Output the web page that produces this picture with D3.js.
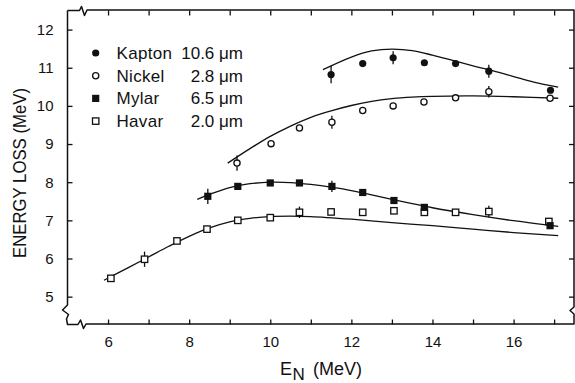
<!DOCTYPE html>
<html lang="en">
<head>
<meta charset="UTF-8">
<title>Energy loss vs E_N</title>
<script src="https://cdn.jsdelivr.net/npm/d3@7/dist/d3.min.js"></script>
<style>
    body { margin: 0; background: #fff; }
    svg text { font-family: 'Liberation Sans', Arial, sans-serif; fill: #111; }
</style>
</head>
<body>
<svg width="575" height="383"></svg>
<script>
var kaptonE    = [11.5, 12.28, 13.03, 13.8, 14.57, 15.39, 16.91];
var kaptonLoss = [10.82, 11.11, 11.26, 11.13, 11.11, 10.91, 10.41];
var kaptonErr  = [0.23, 0, 0.17, 0, 0, 0.17, 0];

var nickelE    = [9.18, 10.02, 10.72, 11.52, 12.28, 13.03, 13.79, 14.57, 15.39, 16.9];
var nickelLoss = [8.5, 9.01, 9.42, 9.57, 9.88, 10.0, 10.1, 10.21, 10.37, 10.2];
var nickelErr  = [0.2, 0, 0, 0.17, 0, 0, 0, 0, 0.15, 0];

var mylarE    = [8.46, 9.2, 10.0, 10.72, 11.52, 12.28, 13.05, 13.8, 16.9];
var mylarLoss = [7.63, 7.89, 7.98, 7.98, 7.89, 7.73, 7.52, 7.34, 6.86];
var mylarErr  = [0.2, 0, 0, 0, 0.15, 0, 0, 0, 0];

var havarE    = [6.07, 6.9, 7.7, 8.44, 9.2, 10.0, 10.72, 11.5, 12.28, 13.05, 13.8, 14.57, 15.39, 16.87];
var havarLoss = [5.48, 5.98, 6.46, 6.77, 7.0, 7.07, 7.21, 7.22, 7.21, 7.25, 7.21, 7.21, 7.23, 6.97];
var havarErr  = [0, 0.2, 0, 0, 0, 0, 0.15, 0, 0, 0, 0, 0, 0.15, 0];

// calculated curves
var kaptonFitE = [11.3, 12, 12.5, 13, 13.5, 14, 14.5, 15, 15.5, 16, 16.5, 17.1];
var kaptonFit  = [10.95, 11.28, 11.44, 11.49, 11.45, 11.33, 11.19, 11.05, 10.92, 10.77, 10.62, 10.49];

var nickelFitE = [8.95, 9.5, 10, 10.5, 11, 11.5, 12, 12.5, 13, 13.5, 14, 15, 16, 17.1];
var nickelFit  = [8.5, 8.88, 9.2, 9.47, 9.7, 9.87, 10.01, 10.12, 10.19, 10.23, 10.25, 10.26, 10.24, 10.2];

var mylarFitE = [8.2, 8.5, 9, 9.5, 10, 10.5, 11, 11.5, 12, 12.5, 13, 13.5, 14, 15, 16, 17.1];
var mylarFit  = [7.55, 7.68, 7.86, 7.96, 8.0, 7.99, 7.94, 7.87, 7.78, 7.67, 7.55, 7.44, 7.33, 7.15, 6.99, 6.84];

var havarFitE = [5.9, 6.5, 7, 7.5, 8, 8.5, 9, 9.5, 10, 10.5, 11, 12, 13, 14, 15, 16, 17.1];
var havarFit  = [5.43, 5.76, 6.04, 6.32, 6.58, 6.8, 6.96, 7.05, 7.1, 7.11, 7.1, 7.03, 6.94, 6.86, 6.77, 6.68, 6.6];

// legend
var foilNames  = ['Kapton', 'Nickel', 'Mylar', 'Havar'];
var foilThick  = ['10.6 \u03bcm', '2.8 \u03bcm', '6.5 \u03bcm', '2.0 \u03bcm'];
var foilSymbol = ['dot', 'circle', 'square', 'box'];

// tick values
var xTicks  = [6, 7, 8, 9, 10, 11, 12, 13, 14, 15, 16, 17];
var xLabels = [6, 8, 10, 12, 14, 16];
var yTicks  = [5, 6, 7, 8, 9, 10, 11, 12];

/***************************************************************/
var svg = d3.select('svg');
var L = 67.5, R = 574, T = 10.5, B = 324.5;   // frame

var x = d3.scaleLinear().domain([5.0, 17.49]).range([L, R]);
var y = d3.scaleLinear().domain([4.27, 12.5]).range([B, T]);

// axes, ticks pointing inward
function noDomain(g) { g.select('.domain').remove(); g.selectAll('line').attr('stroke', '#111').attr('stroke-width', 1.3); }

svg.append('g').attr('transform', 'translate(0,' + B + ')')
    .call(d3.axisBottom(x).tickValues(xTicks).tickSizeInner(-5).tickSizeOuter(0).tickPadding(12)
        .tickFormat(function(d) { return xLabels.indexOf(d) >= 0 ? d : ''; }))
    .call(noDomain)
    .selectAll('text').attr('font-size', 15).attr('font-family', null);

svg.append('g').attr('transform', 'translate(0,' + T + ')')
    .call(d3.axisTop(x).tickValues(xTicks).tickSizeInner(-5).tickSizeOuter(0).tickFormat(''))
    .call(noDomain);

svg.append('g').attr('transform', 'translate(' + L + ',0)')
    .call(d3.axisLeft(y).tickValues(yTicks).tickSizeInner(-5).tickSizeOuter(0).tickPadding(14))
    .call(noDomain)
    .selectAll('text').attr('font-size', 15).attr('font-family', null);

svg.append('g').attr('transform', 'translate(' + R + ',0)')
    .call(d3.axisRight(y).tickValues(yTicks).tickSizeInner(-5).tickSizeOuter(0).tickFormat(''))
    .call(noDomain);

// frame with axis break marks
var frame = [
    [L, T], [L, 305], [L - 5, 310], [L + 1, 314.5], [L - 1, 319], [L, B],
    [78, B], [80.5, B - 4.5], [83.5, B + 4], [86, B - 0.5], [R, B - 0.5],
    [R, 314], [R - 4, 310.5], [R, 307], [R, T - 0.5],
    [87, T - 0.5], [84.5, T + 5], [81.5, T - 4], [79.5, T], [L, T]
];
svg.append('path')
    .attr('d', d3.line()(frame))
    .attr('fill', 'none').attr('stroke', '#111').attr('stroke-width', 1.5)
    .attr('stroke-linejoin', 'round');

// curves
var curve = d3.line()
    .x(function(d) { return x(d[0]); })
    .y(function(d) { return y(d[1]); })
    .curve(d3.curveCatmullRom);

[[kaptonFitE, kaptonFit], [nickelFitE, nickelFit], [mylarFitE, mylarFit], [havarFitE, havarFit]]
    .forEach(function(c) {
        svg.append('path')
            .attr('d', curve(d3.zip(c[0], c[1])))
            .attr('fill', 'none').attr('stroke', '#111').attr('stroke-width', 1.3);
    });

// markers
function marker(g, type, cx, cy) {
    if (type == 'dot') {
        g.append('circle').attr('cx', cx).attr('cy', cy).attr('r', 3.6).attr('fill', '#111');
    } else if (type == 'circle') {
        g.append('circle').attr('cx', cx).attr('cy', cy).attr('r', 3.1)
            .attr('fill', '#fff').attr('stroke', '#111').attr('stroke-width', 1.3);
    } else if (type == 'square') {
        g.append('rect').attr('x', cx - 3.6).attr('y', cy - 3.6).attr('width', 7.2).attr('height', 7.2).attr('fill', '#111');
    } else {
        g.append('rect').attr('x', cx - 3.2).attr('y', cy - 3.2).attr('width', 6.4).attr('height', 6.4)
            .attr('fill', '#fff').attr('stroke', '#111').attr('stroke-width', 1.3);
    }
}

var series = [
    [havarE, havarLoss, havarErr, 'box'],
    [mylarE, mylarLoss, mylarErr, 'square'],
    [nickelE, nickelLoss, nickelErr, 'circle'],
    [kaptonE, kaptonLoss, kaptonErr, 'dot']
];
series.forEach(function(s) {
    var g = svg.append('g');
    s[0].forEach(function(e, i) {
        if (s[2][i] > 0) {
            g.append('line')
                .attr('x1', x(e)).attr('x2', x(e))
                .attr('y1', y(s[1][i] - s[2][i])).attr('y2', y(s[1][i] + s[2][i]))
                .attr('stroke', '#111').attr('stroke-width', 1.3);
        }
        marker(g, s[3], x(e), y(s[1][i]));
    });
});

// legend
var lg = svg.append('g');
foilNames.forEach(function(n, i) {
    var cy = 53 + i * 22.7;
    marker(lg, foilSymbol[i], 95.7, cy);
    lg.append('text').attr('x', 116.5).attr('y', cy + 6)
        .attr('font-size', 17).attr('letter-spacing', 0.3).text(n);
    lg.append('text').attr('x', 243).attr('y', cy + 6).attr('text-anchor', 'end')
        .attr('font-size', 17).text(foilThick[i]);
});

// axis titles
svg.append('text')
    .attr('transform', 'translate(26,173) rotate(-90)')
    .attr('text-anchor', 'middle').attr('font-size', 18.5)
    .attr('textLength', 170).attr('lengthAdjust', 'spacingAndGlyphs')
    .text('ENERGY LOSS (MeV)');

svg.append('text').attr('x', 280).attr('y', 375).attr('font-size', 18).text('E');
svg.append('text').attr('x', 292.5).attr('y', 380).attr('font-size', 17).text('N');
svg.append('text').attr('x', 313).attr('y', 375).attr('font-size', 18).text('(MeV)');
</script>
</body>
</html>
